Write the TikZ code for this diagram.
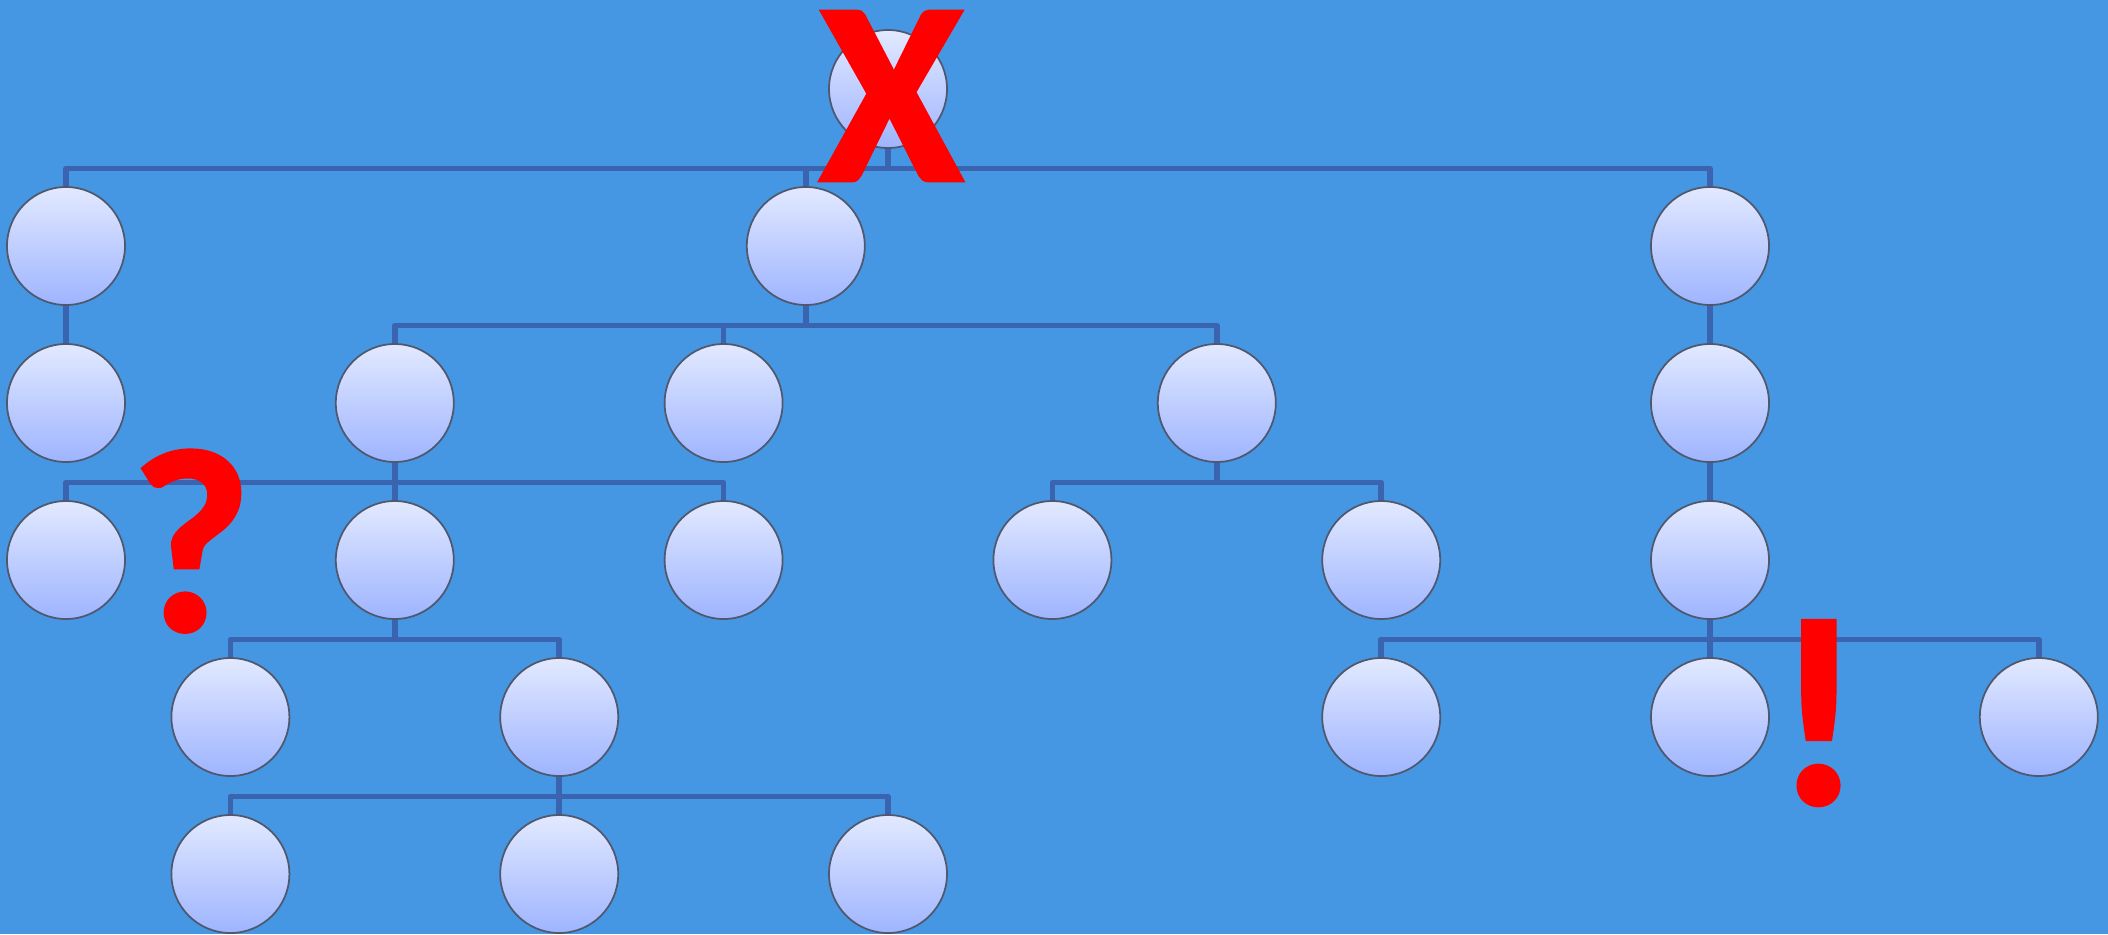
\documentclass[tikz,border=0pt]{standalone}
\usepackage{fontspec}
\setmainfont{Carlito}
\newfontfamily\signfont{Carlito Bold}[FakeBold=1.6]
\usepackage{tikz}
\usetikzlibrary{calc}
\definecolor{bg}{RGB}{69,151,227}
\definecolor{linkblue}{RGB}{58,100,176}
\definecolor{nodetop}{RGB}{226,233,255}
\definecolor{nodebot}{RGB}{158,180,255}
\definecolor{rim}{RGB}{80,88,110}
\tikzset{
  circ/.style={circle,draw=rim,line width=0.5pt,minimum size=1.18cm,inner sep=0pt,top color=nodetop,bottom color=nodebot},
  link/.style={draw=linkblue,line width=1.6pt,line join=round},
  sign/.style={text=red,font=\signfont\fontsize{#1}{#1}\selectfont,inner sep=0pt},
}

\begin{document}
\begin{tikzpicture}[x=1.644cm,y=-1.57cm]
\fill[bg] (-0.40146,-0.56688) rectangle (12.4209,5.3822);
% tree nodes, column / row
\node[circ] (root) at (5,0) {};
\node[circ] (a) at (0,1) {};
\node[circ] (b) at (4.5,1) {};
\node[circ] (e) at (10,1) {};
\node[circ] (aa) at (0,2) {};
\node[circ] (b1) at (2,2) {};
\node[circ] (b2) at (4,2) {};
\node[circ] (b3) at (7,2) {};
\node[circ] (e1) at (10,2) {};
\node[circ] (b11) at (0,3) {};
\node[circ] (b12) at (2,3) {};
\node[circ] (b13) at (4,3) {};
\node[circ] (b31) at (6,3) {};
\node[circ] (b32) at (8,3) {};
\node[circ] (e2) at (10,3) {};
\node[circ] (c1) at (1,4) {};
\node[circ] (c2) at (3,4) {};
\node[circ] (f1) at (8,4) {};
\node[circ] (f2) at (10,4) {};
\node[circ] (f3) at (12,4) {};
\node[circ] (d1) at (1,5) {};
\node[circ] (d2) at (3,5) {};
\node[circ] (d3) at (5,5) {};
% connectors
\foreach \p/\c in {root/a,root/b,root/e,a/aa,b/b1,b/b2,b/b3,e/e1,
  b1/b11,b1/b12,b1/b13,b3/b31,b3/b32,e1/e2,b12/c1,b12/c2,
  e2/f1,e2/f2,e2/f3,c2/d1,c2/d2,c2/d3}
  \draw[link] (\p.south) -- ++(0,0.125) -| (\c.north);
% marks
\node[sign=74] (cross) at (5.02,0.045) {X};
\node[sign=74] (query) at (0.76,2.88) {?};
\node[sign=76] (bang) at (10.66,3.975) {!};
\end{tikzpicture}
\end{document}
